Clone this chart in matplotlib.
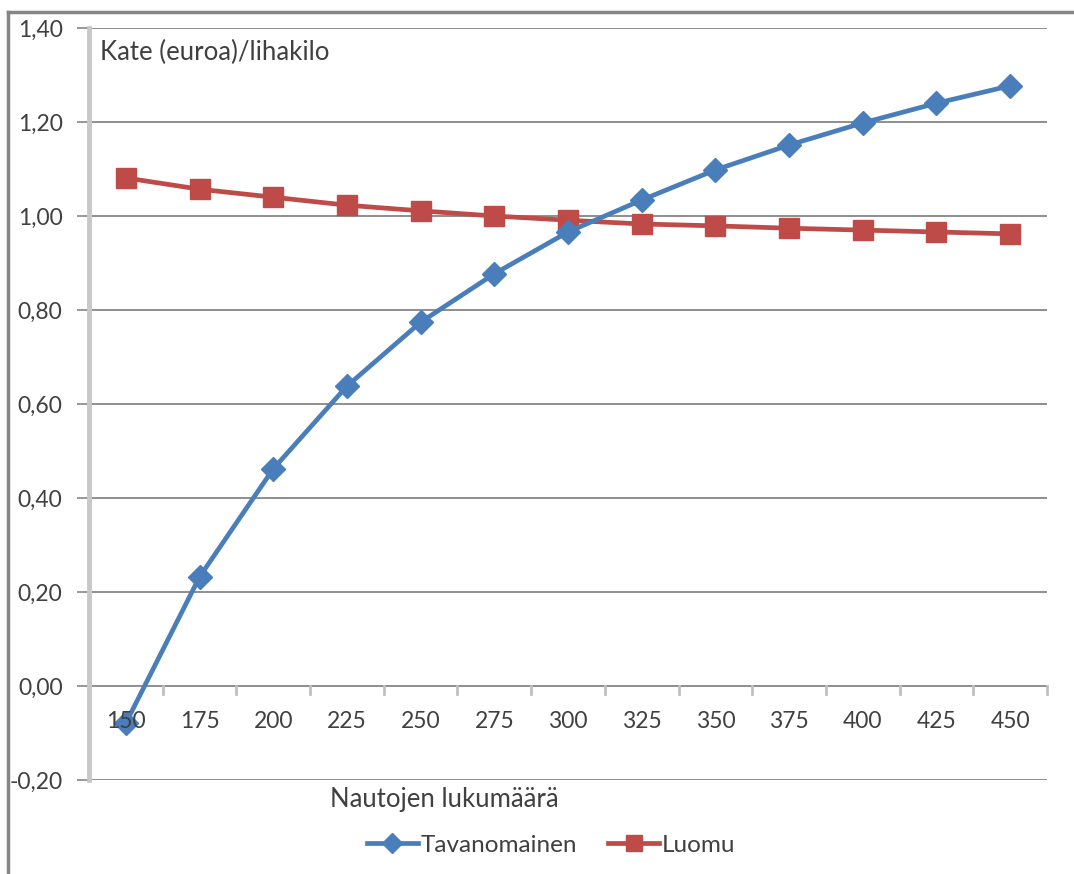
import matplotlib.pyplot as plt
from matplotlib.lines import Line2D
from matplotlib.ticker import FixedLocator, FuncFormatter

plt.rcParams['font.family'] = ['Lato', 'DejaVu Sans']

# Nautojen lukumäärä ja kate (euroa) per lihakilo
herd_sizes = [150, 175, 200, 225, 250, 275, 300, 325, 350, 375, 400, 425, 450]
tavanomainen = [-0.079, 0.232, 0.462, 0.638, 0.774, 0.877, 0.966, 1.034, 1.098, 1.151, 1.198, 1.240, 1.277]
luomu = [1.081, 1.057, 1.040, 1.023, 1.011, 1.000, 0.991, 0.983, 0.979, 0.974, 0.970, 0.966, 0.962]

W, H = 1074, 874
fig = plt.figure(figsize=(W / 100, H / 100), dpi=100)
ax = fig.add_axes([89 / W, 1 - 780 / H, (1047 - 89) / W, (780 - 28) / H])

blue = '#4A7EBB'
red = '#BE4B48'
grid_col = '#868686'
text_col = '#404040'

x = list(range(len(herd_sizes)))
ax.plot(x, tavanomainen, color=blue, lw=3.4, marker='D', ms=12, mec=blue, zorder=4)
ax.plot(x, luomu, color=red, lw=3.4, marker='s', ms=14, mec=red, zorder=3)

ax.set_xlim(-0.5, len(herd_sizes) - 0.5)
ax.set_ylim(-0.2, 1.4)

yt = [-0.2 + 0.2 * i for i in range(9)]
ax.yaxis.set_major_locator(FixedLocator(yt))
ax.yaxis.set_major_formatter(FuncFormatter(lambda v, p: f'{v:.2f}'.replace('.', ',')))
ax.tick_params(axis='y', length=9, width=1.2, color=grid_col, labelsize=16.5,
               labelcolor=text_col, pad=10)
for v in yt:
    ax.axhline(v, color=grid_col, lw=1.3, zorder=1)

# category axis crosses at zero: ticks between categories, labels under it
ax.set_xticks([])
for b in range(len(herd_sizes) + 1):
    ax.plot([b - 0.5, b - 0.5], [0, -0.017], color='#c0c0c0', lw=2, zorder=2,
            clip_on=False)
for i, n in enumerate(herd_sizes):
    ax.text(i, -0.075, str(n), ha='center', va='center', fontsize=16.5, color=text_col,
            zorder=5)

for s in ['top', 'right', 'bottom']:
    ax.spines[s].set_visible(False)
ax.spines['left'].set_color('#c8c8c8')
ax.spines['left'].set_linewidth(3.5)
ax.spines['left'].set_zorder(2)

fig.text(100 / W, 1 - 52 / H, 'Kate (euroa)/lihakilo', ha='left', va='center',
         fontsize=18.5, color=text_col)
fig.text(330 / W, 1 - 800 / H, 'Nautojen lukumäärä', ha='left', va='center',
         fontsize=18.5, color=text_col)

handles = [
    Line2D([], [], color=blue, lw=3.4, marker='D', ms=10, mec=blue),
    Line2D([], [], color=red, lw=3.4, marker='s', ms=12, mec=red),
]
fig.legend(handles, ['Tavanomainen', 'Luomu'], loc='center', ncol=2,
           bbox_to_anchor=(551 / W, 1 - 845 / H), frameon=False, fontsize=17.5,
           labelcolor=text_col, handlelength=2.1, handletextpad=0.1, columnspacing=1.3)

# outer chart frame
fig.add_artist(Line2D([8 / W, 8 / W], [0, 1 - 12 / H], color=grid_col, lw=2.5,
                      transform=fig.transFigure))
fig.add_artist(Line2D([8 / W, 1], [1 - 12 / H, 1 - 12 / H], color=grid_col, lw=2.5,
                      transform=fig.transFigure))

fig.savefig('out.png', dpi=100)
